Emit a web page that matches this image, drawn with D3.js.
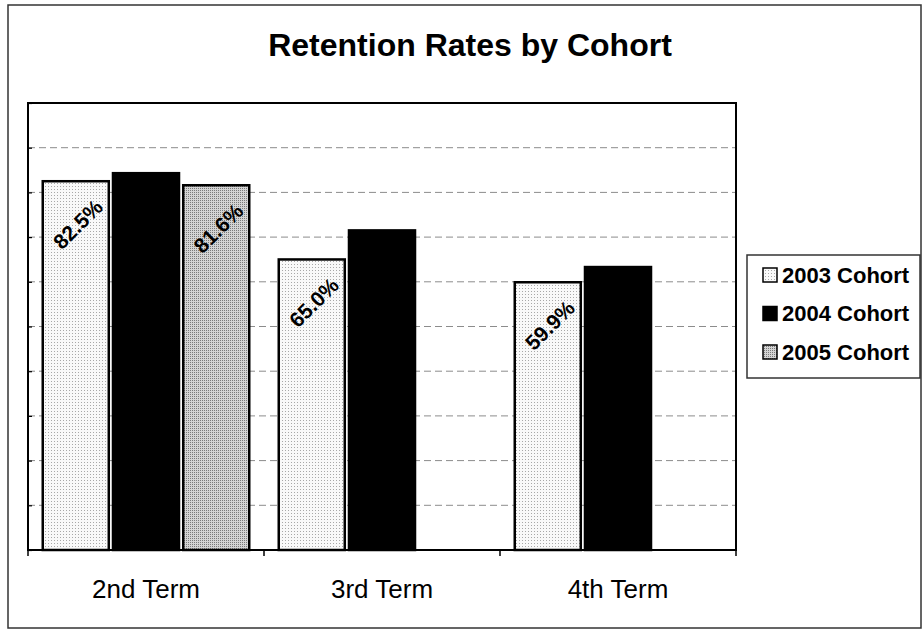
<!DOCTYPE html>
<html>
<head>
<meta charset="utf-8">
<script src="https://cdn.jsdelivr.net/npm/d3@7"></script>
<style>
  html, body { margin: 0; padding: 0; background: #fff; }
  svg { display: block; font-family: Arial, "Liberation Sans", sans-serif; }
</style>
</head>
<body>
<svg id="chart" width="922" height="632"></svg>
<script>
// ---- data ----
const title = "Retention Rates by Cohort";
const categories = ["2nd Term", "3rd Term", "4th Term"];
const seriesNames = ["2003 Cohort", "2004 Cohort", "2005 Cohort"];
const cohort2003 = [82.5, 65.0, 59.9];
const cohort2004 = [84.3, 71.5, 63.3];
const cohort2005 = [81.6, null, null];
const labeledSeries = ["2003 Cohort", "2005 Cohort"];
const yTickValues = [0, 10, 20, 30, 40, 50, 60, 70, 80, 90, 100];

const seriesValues = [cohort2003, cohort2004, cohort2005];

const svg = d3.select("#chart");
const defs = svg.append("defs");

// patterns
const p1 = defs.append("pattern").attr("id", "pat2003")
  .attr("width", 3).attr("height", 3).attr("patternUnits", "userSpaceOnUse");
p1.append("rect").attr("width", 3).attr("height", 3).attr("fill", "#f9f9f9");
p1.append("rect").attr("width", 1).attr("height", 1).attr("fill", "#a8a8a8");

const p3 = defs.append("pattern").attr("id", "pat2005")
  .attr("width", 2).attr("height", 2).attr("patternUnits", "userSpaceOnUse");
p3.append("rect").attr("width", 2).attr("height", 2).attr("fill", "#d4d4d4");
p3.append("rect").attr("width", 1).attr("height", 1).attr("fill", "#7a7a7a");

const fills = {
  "2003 Cohort": "url(#pat2003)",
  "2004 Cohort": "#000",
  "2005 Cohort": "url(#pat2005)"
};

// outer border
svg.append("rect").attr("x", 8).attr("y", 5).attr("width", 913).attr("height", 623)
  .attr("fill", "#fff").attr("stroke", "#333").attr("stroke-width", 1.5);

// title
svg.append("text").attr("x", 470).attr("y", 56)
  .attr("text-anchor", "middle").attr("font-size", 32).attr("font-weight", "bold")
  .attr("fill", "#000").text(title);

// scales
const plotLeft = 28, plotRight = 736, plotTop = 103, plotBottom = 550;
const x0 = d3.scaleBand().domain(categories).range([plotLeft, plotRight])
  .paddingInner(0.125).paddingOuter(0.0625);
const x1 = d3.scaleBand().domain(seriesNames).range([0, x0.bandwidth()]).paddingInner(0.06);
const y = d3.scaleLinear().domain([0, 100]).range([plotBottom, plotTop]);

// plot background
svg.append("rect").attr("x", plotLeft).attr("y", plotTop)
  .attr("width", plotRight - plotLeft).attr("height", plotBottom - plotTop)
  .attr("fill", "#fff");

// gridlines
svg.append("g").selectAll("line").data(yTickValues.filter(d => d > 0 && d < 100)).join("line")
  .attr("x1", plotLeft).attr("x2", plotRight)
  .attr("y1", d => y(d)).attr("y2", d => y(d))
  .attr("stroke", "#8c8c8c").attr("stroke-width", 1).attr("stroke-dasharray", "7,4");

// y-axis (ticks only, no labels)
const yAxis = d3.axisRight(y).tickValues(yTickValues).tickSize(4).tickFormat("");
const gy = svg.append("g").attr("transform", `translate(${plotLeft},0)`).call(yAxis);
gy.select(".domain").remove();
gy.selectAll(".tick line").attr("stroke", "#000").attr("stroke-width", 1.2);

// bars
const barData = [];
categories.forEach((c, i) => {
  seriesNames.forEach((s, j) => {
    const v = seriesValues[j][i];
    if (v != null) barData.push({ cat: c, series: s, value: v });
  });
});

svg.append("g").selectAll("rect").data(barData).join("rect")
  .attr("x", d => x0(d.cat) + x1(d.series))
  .attr("y", d => y(d.value))
  .attr("width", x1.bandwidth())
  .attr("height", d => y(0) - y(d.value))
  .attr("fill", d => fills[d.series])
  .attr("stroke", "#000").attr("stroke-width", 2.5);

// data labels
svg.append("g").selectAll("text").data(barData.filter(d => labeledSeries.includes(d.series))).join("text")
  .attr("transform", d => {
    const cx = x0(d.cat) + x1(d.series) + x1.bandwidth() / 2 + 2;
    const cy = y(d.value) + 43;
    return `translate(${cx},${cy}) rotate(-45)`;
  })
  .attr("text-anchor", "middle").attr("dominant-baseline", "central")
  .attr("font-size", 21).attr("font-weight", "bold").attr("fill", "#000")
  .text(d => d.value.toFixed(1) + "%");

// plot border
svg.append("rect").attr("x", plotLeft).attr("y", plotTop)
  .attr("width", plotRight - plotLeft).attr("height", plotBottom - plotTop)
  .attr("fill", "none").attr("stroke", "#000").attr("stroke-width", 2);

// x-axis
const xAxis = d3.axisBottom(x0).tickSize(0).tickPadding(30);
const gx = svg.append("g").attr("transform", `translate(0,${plotBottom})`).call(xAxis);
gx.select(".domain").remove();
gx.selectAll(".tick text").attr("font-size", 26).attr("fill", "#000")
  .attr("font-family", "Arial, 'Liberation Sans', sans-serif");
// category separators
const sepX = [plotLeft].concat(categories.map(c => x0(c) - x0.step() * x0.paddingInner() / 2).slice(1)).concat([plotRight]);
svg.append("g").selectAll("line").data(sepX).join("line")
  .attr("x1", d => d).attr("x2", d => d)
  .attr("y1", plotBottom).attr("y2", plotBottom + 6)
  .attr("stroke", "#000").attr("stroke-width", 1.5);

// legend
const lg = svg.append("g");
lg.append("rect").attr("x", 747).attr("y", 255).attr("width", 173).attr("height", 123)
  .attr("fill", "#fff").attr("stroke", "#333").attr("stroke-width", 1.5);
const rowY = d3.scalePoint().domain(seriesNames).range([275, 352]);
const rows = lg.selectAll("g.row").data(seriesNames).join("g").attr("class", "row");
rows.append("rect").attr("x", 763).attr("y", d => rowY(d) - 7)
  .attr("width", 14).attr("height", 14)
  .attr("fill", d => fills[d]).attr("stroke", "#000").attr("stroke-width", 1.5);
rows.append("text").attr("x", 782).attr("y", d => rowY(d))
  .attr("dominant-baseline", "central")
  .attr("font-size", 22).attr("font-weight", "bold").attr("fill", "#000")
  .text(d => d);
</script>
</body>
</html>
